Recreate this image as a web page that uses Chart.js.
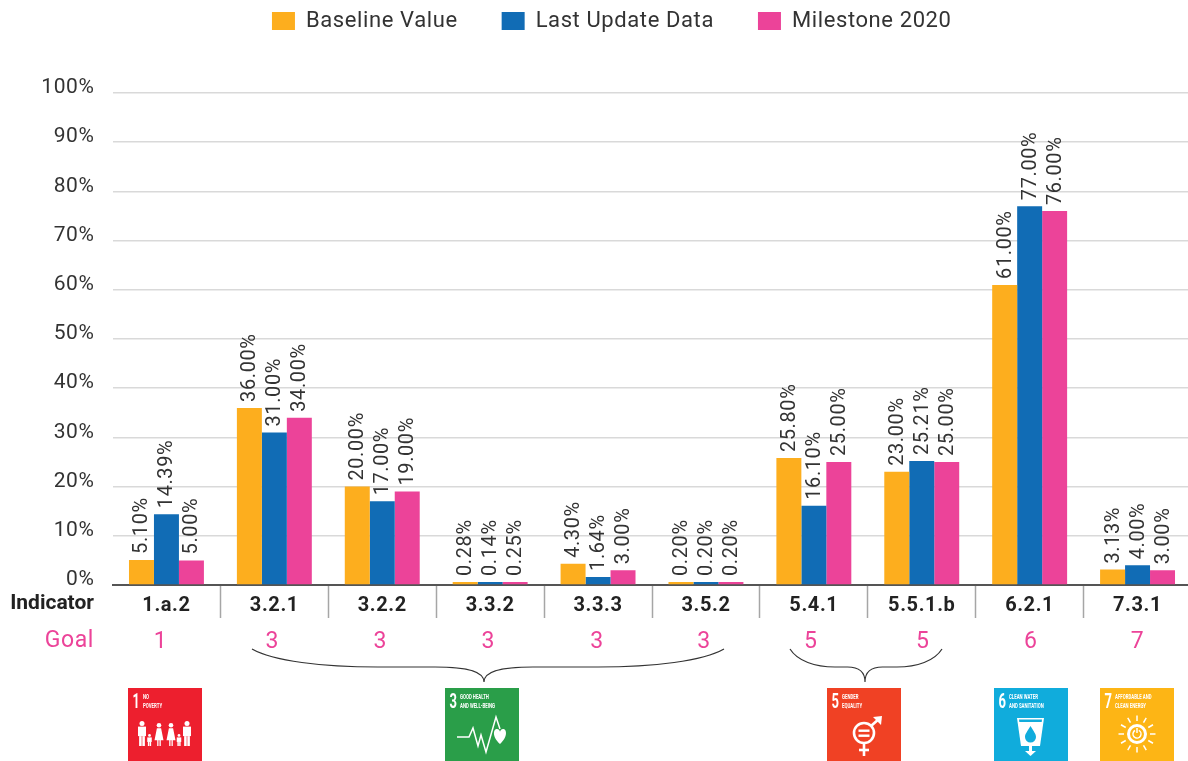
<!DOCTYPE html>
<html><head><meta charset="utf-8">
<style>html,body{margin:0;padding:0;background:#fff;overflow:hidden}canvas{display:block}</style>
<script src="https://cdn.jsdelivr.net/npm/chart.js@4"></script></head>
<body><canvas id="c" width="1222" height="761" style="width:1222px;height:761px"></canvas>
<script>
const indicators = ['1.a.2','3.2.1','3.2.2','3.3.2','3.3.3','3.5.2','5.4.1','5.5.1.b','6.2.1','7.3.1'];
const goals = ['1','3','3','3','3','3','5','5','6','7'];
const baselineValue = [5.10,36.00,20.00,0.28,4.30,0.20,25.80,23.00,61.00,3.13];
const lastUpdateData = [14.39,31.00,17.00,0.14,1.64,0.20,16.10,25.21,77.00,4.00];
const milestone2020 = [5.00,34.00,19.00,0.25,3.00,0.20,25.00,25.00,76.00,3.00];
const seriesNames = ['Baseline Value','Last Update Data','Milestone 2020'];
const seriesColors = ['#FDAE1E','#116CB5','#EC4399'];
const ROBOTO = 'Roboto, sans-serif';
const TXT = '#333333';
const SPACING = '0.6px';

function rr(ctx, pts){ctx.beginPath();pts.forEach((p,i)=>i?ctx.lineTo(p[0],p[1]):ctx.moveTo(p[0],p[1]));}
function person(ctx,x,top,h,w,skirt){
  const r=Math.max(h*0.1,1.4);
  ctx.beginPath();ctx.arc(x,top+r,r,0,7);ctx.fill();
  const y=top+2*r+0.6;
  if(skirt){
    rr(ctx,[[x-w*0.35,y],[x+w*0.35,y],[x+w*0.75,y+h*0.52],[x+w*0.3,y+h*0.52],[x+w*0.3,top+h],[x+0.5,top+h],[x+0.5,y+h*0.52],[x-0.5,y+h*0.52],[x-0.5,top+h],[x-w*0.3,top+h],[x-w*0.3,y+h*0.52],[x-w*0.75,y+h*0.52]]);
    ctx.closePath();ctx.fill();
  } else {
    const legTop=y+h*0.38;
    ctx.fillRect(x-w*0.5,y,w,h*0.38);
    ctx.fillRect(x-w*0.36,legTop,w*0.32,top+h-legTop);
    ctx.fillRect(x+w*0.04,legTop,w*0.32,top+h-legTop);
  }
}
const tiles=[
 {x:128,w:74,c:'#ED1F2E',n:'1',nw:0.62,t:['NO','POVERTY'],icon(ctx){
   person(ctx,14,33,25,8,false);person(ctx,21.5,46,12,4.5,false);person(ctx,31,35,23,6,true);
   person(ctx,43,35,23,6,true);person(ctx,51,46,12,4.5,false);person(ctx,59,33,25,8,false);}},
 {x:445,w:74,c:'#2A9E49',n:'3',nw:0.65,t:['GOOD HEALTH','AND WELL-BEING'],icon(ctx){
   ctx.lineWidth=1.5;ctx.lineJoin='miter';
   rr(ctx,[[12,49],[24,49],[28,40],[33,58],[36,47],[41,64],[51,29],[55,41]]);ctx.stroke();
   ctx.beginPath();ctx.moveTo(55,56);ctx.bezierCurveTo(47,49,48,41,52,41);ctx.bezierCurveTo(54,41,55,43,55,44);ctx.bezierCurveTo(55,43,56,41,58,41);ctx.bezierCurveTo(62,41,63,49,55,56);ctx.fill();}},
 {x:827,w:74,c:'#F04124',n:'5',nw:0.65,t:['GENDER','EQUALITY'],icon(ctx){
   ctx.lineWidth=2.6;ctx.beginPath();ctx.arc(37,45,10,0,7);ctx.stroke();
   ctx.fillRect(31.5,41.5,11,2.4);ctx.fillRect(31.5,46.5,11,2.4);
   rr(ctx,[[44,38],[53,30]]);ctx.stroke();
   rr(ctx,[[46,29],[55,28],[54,37]]);ctx.closePath();ctx.fill();
   rr(ctx,[[37,55],[37,68]]);ctx.stroke();rr(ctx,[[32,62],[42,62]]);ctx.stroke();}},
 {x:994,w:74,c:'#10ACDC',n:'6',nw:0.65,t:['CLEAN WATER','AND SANITATION'],icon(ctx){
   rr(ctx,[[23,30],[50,30],[46,58],[27,58]]);ctx.closePath();ctx.fill();
   ctx.fillStyle='#10ACDC';rr(ctx,[[25,31.5],[48,31.5],[47.7,34],[25.3,34]]);ctx.closePath();ctx.fill();
   ctx.beginPath();ctx.moveTo(36.5,38);ctx.bezierCurveTo(33,44,31,46,31,49);ctx.arc(36.5,49,5.5,Math.PI,0,true);ctx.bezierCurveTo(42,46,40,44,36.5,38);ctx.fill();
   ctx.fillStyle='#fff';ctx.fillRect(35,58,3,6);rr(ctx,[[31,63],[42,63],[36.5,68]]);ctx.closePath();ctx.fill();}},
 {x:1100,w:74,c:'#FDB515',n:'7',nw:0.65,t:['AFFORDABLE AND','CLEAN ENERGY'],icon(ctx){
   const cx=37,cy=46;ctx.lineWidth=3;ctx.beginPath();ctx.arc(cx,cy,8.5,0,7);ctx.stroke();
   ctx.lineWidth=1.5;ctx.beginPath();ctx.arc(cx,cy,4,-1.1,4.2);ctx.stroke();rr(ctx,[[cx,cy-6],[cx,cy-1]]);ctx.stroke();
   for(let i=0;i<12;i++){const a=i*Math.PI/6;rr(ctx,[[cx+Math.cos(a)*13,cy+Math.sin(a)*13],[cx+Math.cos(a)*18.5,cy+Math.sin(a)*18.5]]);ctx.stroke();}}}
];
const braces=[{a:252,b:724,tip:484},{a:790,b:942,tip:865}];
const goalNudge=[-6,-2,-2,-2,-1,-2,-3,1,1,0];

const letterSpace={id:'letterSpace',beforeLayout(ch){ch.ctx.letterSpacing=SPACING;},beforeDraw(ch){ch.ctx.letterSpacing=SPACING;},
  afterLayout(ch){const l=ch.legend;l.top-=51;l.bottom-=51;l.left+=16;l.right+=16;}};
const labelsPlugin={id:'labelsPlugin',afterDatasetsDraw(ch){
  const ctx=ch.ctx;ctx.save();ctx.letterSpacing=SPACING;
  ctx.fillStyle=TXT;ctx.font='20px '+ROBOTO;ctx.textAlign='left';ctx.textBaseline='middle';
  ch.data.datasets.forEach((ds,di)=>{ch.getDatasetMeta(di).data.forEach((bar,i)=>{
    ctx.save();ctx.translate(bar.x+1,bar.y-6);ctx.rotate(-Math.PI/2);
    ctx.fillText(ds.data[i].toFixed(2)+'%',0,0);ctx.restore();});});
  ctx.restore();
},afterDraw(ch){
  const ctx=ch.ctx,xs=ch.scales.x;ctx.save();ctx.letterSpacing=SPACING;
  ctx.textBaseline='middle';
  ctx.textAlign='right';ctx.font='bold 21px '+ROBOTO;ctx.fillStyle='#222';ctx.letterSpacing='0px';ctx.fillText('Indicator',94,604);
  ctx.letterSpacing=SPACING;
  ctx.font='23px '+ROBOTO;ctx.fillStyle='#EC4399';ctx.fillText('Goal',94,641);
  ctx.textAlign='center';
  goals.forEach((g,i)=>ctx.fillText(g,xs.getPixelForValue(i)+goalNudge[i],642));
  ctx.strokeStyle='#333';ctx.lineWidth=1.2;
  braces.forEach(b=>{const y0=649,y1=667,y2=682;
    const k=(b.b-b.a)>300?70:25;
    ctx.beginPath();ctx.moveTo(b.a,y0);
    ctx.bezierCurveTo(b.a+k*0.3,y0+12,b.a+k,y1,b.a+k*1.8,y1);
    ctx.lineTo(b.tip-k*0.7,y1);
    ctx.bezierCurveTo(b.tip-k*0.2,y1,b.tip,y1+5,b.tip,y2);
    ctx.bezierCurveTo(b.tip,y1+5,b.tip+k*0.2,y1,b.tip+k*0.7,y1);
    ctx.lineTo(b.b-k*1.8,y1);
    ctx.bezierCurveTo(b.b-k,y1,b.b-k*0.3,y0+12,b.b,y0);ctx.stroke();});
  tiles.forEach(t=>{ctx.save();ctx.translate(t.x,688);ctx.fillStyle=t.c;ctx.fillRect(0,0,t.w,73);
    ctx.fillStyle='#fff';ctx.strokeStyle='#fff';ctx.letterSpacing='0px';ctx.textAlign='left';ctx.textBaseline='middle';
    ctx.save();ctx.translate(4.5,15);ctx.scale(t.nw,1);ctx.font='bold 20px '+ROBOTO;ctx.fillText(t.n,0,0);ctx.restore();
    ctx.save();ctx.translate(15,0);ctx.scale(0.62,1);ctx.font='bold 7px '+ROBOTO;ctx.fillText(t.t[0],0,9.5);ctx.fillText(t.t[1],0,18.5);ctx.restore();
    t.icon(ctx);ctx.restore();});
  ctx.restore();
}};

new Chart(document.getElementById('c'),{
  type:'bar',
  data:{labels:indicators,datasets:[
    {label:seriesNames[0],data:baselineValue,backgroundColor:seriesColors[0]},
    {label:seriesNames[1],data:lastUpdateData,backgroundColor:seriesColors[1]},
    {label:seriesNames[2],data:milestone2020,backgroundColor:seriesColors[2]}]},
  plugins:[letterSpace,labelsPlugin],
  options:{
    responsive:false,animation:false,
    categoryPercentage:75/108,barPercentage:1,minBarLength:3,
    layout:{padding:{left:0,right:30.5,top:17,bottom:0}},
    plugins:{tooltip:{enabled:false},
      legend:{position:'top',labels:{boxWidth:23,boxHeight:18,padding:44,color:TXT,font:{family:ROBOTO,size:22}}}},
    scales:{
      x:{afterFit(s){s.height=176;},
        grid:{drawOnChartArea:false,drawTicks:true,tickLength:33,tickWidth:1.5,offset:true,color:c=>c.index===0?'rgba(0,0,0,0)':'#A6A6A6'},
        border:{display:true,color:'#555',width:2},
        ticks:{padding:-24,color:'#222',maxRotation:0,autoSkip:false,font:{family:ROBOTO,size:20,weight:'bold'}}},
      y:{min:0,max:100,afterFit(s){s.width=112.5;},
        grid:{drawTicks:false,color:'#D9D9D9',lineWidth:1.5},
        border:{display:false},
        ticks:{stepSize:10,padding:18,labelOffset:-5,color:TXT,font:{family:ROBOTO,size:21},callback:v=>v+'%'}}
    }
  }
});
</script></body></html>
